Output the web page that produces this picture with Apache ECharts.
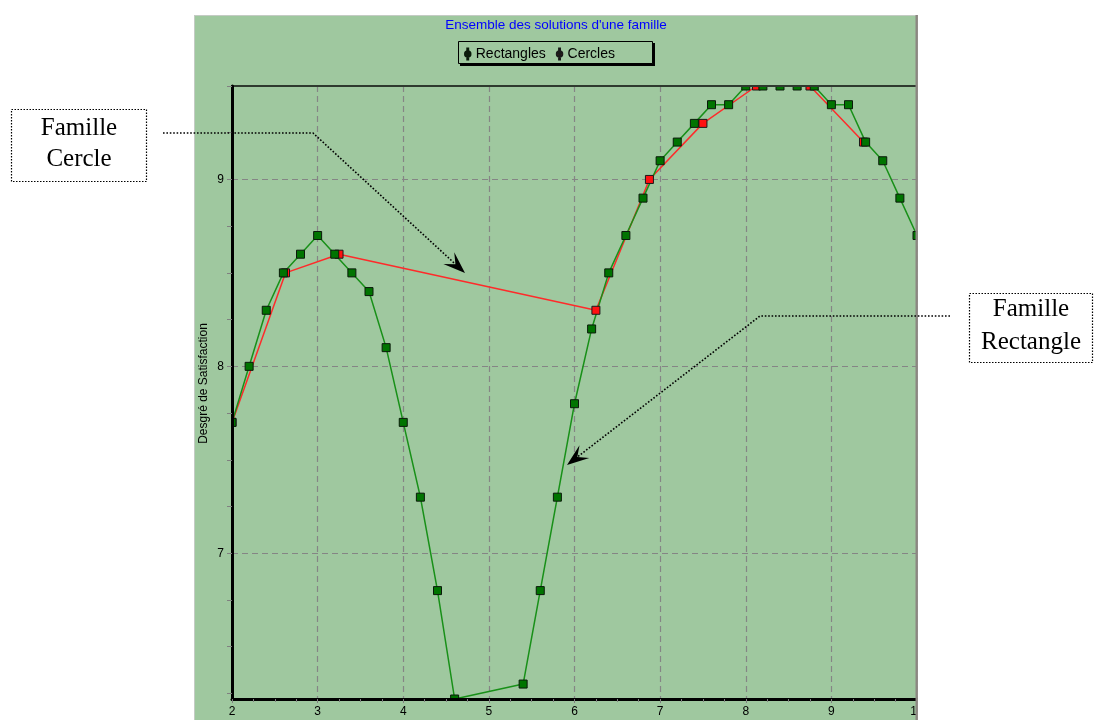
<!DOCTYPE html>
<html>
<head>
<meta charset="utf-8">
<title>Ensemble des solutions d'une famille</title>
<script src="https://cdn.jsdelivr.net/npm/echarts@6/dist/echarts.min.js"></script>
<style>
html, body { margin: 0; padding: 0; background: #fff; }
#chart { width: 1095px; height: 720px; }
</style>
</head>
<body>
<div id="chart"></div>
<script>
// famille Rectangles
var rectX = [2, 2.2, 2.4, 2.6, 2.8, 3, 3.2, 3.4, 3.6, 3.8, 4, 4.2, 4.4, 4.6, 5.4, 5.6, 5.8, 6, 6.2, 6.4, 6.6, 6.8, 7, 7.2, 7.4, 7.6, 7.8, 8, 8.2, 8.4, 8.6, 8.8, 9, 9.2, 9.4, 9.6, 9.8, 10];
var rectY = [7.7, 8.0, 8.3, 8.5, 8.6, 8.7, 8.6, 8.5, 8.4, 8.1, 7.7, 7.3, 6.8, 6.22, 6.3, 6.8, 7.3, 7.8, 8.2, 8.5, 8.7, 8.9, 9.1, 9.2, 9.3, 9.4, 9.4, 9.5, 9.5, 9.5, 9.5, 9.5, 9.4, 9.4, 9.2, 9.1, 8.9, 8.7];
// famille Cercles
var cercX = [2, 2.625, 3.25, 6.25, 6.875, 7.5, 8.125, 8.75, 9.375];
var cercY = [7.7, 8.5, 8.6, 8.3, 9.0, 9.3, 9.5, 9.5, 9.2];

var yLabels = [7, 8, 9];
var yTicks = [6.25, 6.5, 6.75, 7, 7.25, 7.5, 7.75, 8, 8.25, 8.5, 8.75, 9, 9.25, 9.5];

var panel = '#9fc89f';
var gridCol = '#858585';

function pairs(xs, ys) {
  return xs.map(function (x, i) { return [x, ys[i]]; });
}

// pointe de fleche pour les annotations
function arrowHead(from, tip) {
  var dx = tip[0] - from[0], dy = tip[1] - from[1];
  var len = Math.sqrt(dx * dx + dy * dy);
  var ux = dx / len, uy = dy / len, nx = -uy, ny = ux;
  var back = 22, half = 8, notch = 13;
  return {
    head: [
      tip,
      [tip[0] - back * ux + half * nx, tip[1] - back * uy + half * ny],
      [tip[0] - notch * ux, tip[1] - notch * uy],
      [tip[0] - back * ux - half * nx, tip[1] - back * uy - half * ny]
    ],
    notch: [tip[0] - notch * ux, tip[1] - notch * uy]
  };
}

var a1 = arrowHead([313, 133], [465, 273]);
var a2 = arrowHead([760, 316], [567, 465]);
var dotted = { stroke: '#000', lineWidth: 1.6, lineDash: [1.6, 1.8], fill: null };

var chart = echarts.init(document.getElementById('chart'));

var option = {
  animation: false,
  backgroundColor: '#ffffff',
  textStyle: { fontFamily: 'Liberation Sans' },
  grid: { left: 232, right: 178, top: 86, bottom: 21 },
  legend: {
    data: ['Rectangles', 'Cercles'],
    left: 464,
    top: 47,
    padding: 0,
    zlevel: 3,
    itemWidth: 6,
    itemHeight: 11,
    itemGap: 10,
    icon: 'path://M2.5,0h1v12h-1z M0,6a3,3 0 1,0 6,0a3,3 0 1,0 -6,0z',
    textStyle: { fontSize: 14, color: '#000', fontFamily: 'Liberation Sans' }
  },
  xAxis: [
    {
      type: 'value', min: 2, max: 10, interval: 1, zlevel: 0, z: 0,
      axisLine: { show: false }, axisTick: { show: false }, axisLabel: { show: false },
      splitLine: { show: true, lineStyle: { color: gridCol, width: 1.2, type: [6, 4] } }
    },
    {
      type: 'value', min: 2, max: 10, interval: 1, position: 'bottom', zlevel: 2,
      axisLine: { show: true, onZero: false, lineStyle: { color: '#000', width: 3 } },
      axisTick: { show: true, length: 4, lineStyle: { color: '#808080' } },
      minorTick: { show: true, splitNumber: 4, length: 3, lineStyle: { color: '#808080' } },
      axisLabel: { color: '#000', fontSize: 12, margin: 7 },
      splitLine: { show: false }
    }
  ],
  yAxis: [
    {
      type: 'value', min: 6.22, max: 9.5, zlevel: 0, z: 0,
      axisLine: { show: false },
      axisTick: { show: false, customValues: yLabels },
      axisLabel: { show: false, customValues: yLabels },
      splitLine: { show: true, lineStyle: { color: gridCol, width: 1.2, type: [6, 4] } }
    },
    {
      type: 'value', min: 6.22, max: 9.5, position: 'left', zlevel: 2,
      name: 'Desgré de Satisfaction', nameLocation: 'middle', nameGap: 22,
      nameMoveOverlap: false,
      nameTextStyle: { color: '#000', fontSize: 12, padding: [0, 0, 0, 18] },
      axisLine: { show: true, onZero: false, lineStyle: { color: '#000', width: 3 } },
      axisTick: { show: true, length: 5, customValues: yTicks, lineStyle: { color: '#808080' } },
      axisLabel: { customValues: yLabels, color: '#000', fontSize: 12, margin: 8 },
      splitLine: { show: false }
    }
  ],
  series: [
    {
      name: 'Cercles', type: 'line', xAxisIndex: 0, yAxisIndex: 0, clip: false, zlevel: 0,
      data: pairs(cercX, cercY),
      symbol: 'rect', symbolSize: 8,
      lineStyle: { color: '#ff2a2a', width: 1.5 },
      itemStyle: { color: '#ff1010', borderColor: '#1a1a1a', borderWidth: 1 }
    },
    {
      name: 'Rectangles', type: 'line', xAxisIndex: 0, yAxisIndex: 0, clip: false, zlevel: 0,
      data: pairs(rectX, rectY),
      symbol: 'rect', symbolSize: 8,
      lineStyle: { color: '#189018', width: 1.5 },
      itemStyle: { color: '#007400', borderColor: '#0a1a0a', borderWidth: 1 }
    }
  ],
  graphic: [
    // fond du panneau
    { type: 'rect', zlevel: 0, z: -10, shape: { x: 194, y: 15, width: 724, height: 705 }, style: { fill: panel } },
    // caches autour de la zone de trace (les marqueurs sont coupes au bord)
    { type: 'rect', zlevel: 1, shape: { x: 194, y: 15, width: 724, height: 70.5 }, style: { fill: panel } },
    { type: 'rect', zlevel: 1, shape: { x: 194, y: 15, width: 37, height: 705 }, style: { fill: panel } },
    { type: 'rect', zlevel: 1, shape: { x: 194, y: 700, width: 724, height: 20 }, style: { fill: panel } },
    { type: 'line', zlevel: 2, shape: { x1: 231, y1: 86, x2: 917, y2: 86 }, style: { stroke: '#2e3a2e', lineWidth: 2 } },
    // titre
    { type: 'text', zlevel: 2, style: { text: "Ensemble des solutions d'une famille", x: 556, y: 25, textAlign: 'center', textVerticalAlign: 'middle', fontSize: 13.5, fontFamily: 'Liberation Sans', fill: '#0000ff' } },
    // cadre de legende
    { type: 'rect', zlevel: 2, shape: { x: 460, y: 43, width: 195, height: 23 }, style: { fill: '#000' } },
    { type: 'rect', zlevel: 2, shape: { x: 458.5, y: 41.5, width: 194, height: 22 }, style: { fill: panel, stroke: '#000', lineWidth: 1 } },
    // hors panneau a droite
    { type: 'rect', zlevel: 4, shape: { x: 917.5, y: 0, width: 178, height: 720 }, style: { fill: '#ffffff' } },
    // bords
    { type: 'line', zlevel: 5, shape: { x1: 194.5, y1: 15, x2: 194.5, y2: 720 }, style: { stroke: '#c4cbc4', lineWidth: 1 } },
    { type: 'line', zlevel: 5, shape: { x1: 194, y1: 15.5, x2: 918, y2: 15.5 }, style: { stroke: '#c4cbc4', lineWidth: 1 } },
    { type: 'line', zlevel: 5, shape: { x1: 916.7, y1: 15, x2: 916.7, y2: 720 }, style: { stroke: '#8c8682', lineWidth: 2.4 } },
    // annotation Famille Cercle
    { type: 'rect', zlevel: 5, shape: { x: 11.5, y: 109.5, width: 135, height: 72 }, style: { fill: '#fff', stroke: '#000', lineWidth: 1.2, lineDash: [1.5, 1.5] } },
    { type: 'text', zlevel: 6, style: { text: 'Famille\nCercle', x: 79, y: 144, textAlign: 'center', textVerticalAlign: 'middle', lineHeight: 31, fontSize: 25, fontFamily: 'Liberation Serif', fill: '#000' } },
    { type: 'polyline', zlevel: 6, shape: { points: [[163, 133], [313, 133], a1.notch] }, style: dotted },
    { type: 'polygon', zlevel: 6, shape: { points: a1.head }, style: { fill: '#000' } },
    // annotation Famille Rectangle
    { type: 'rect', zlevel: 5, shape: { x: 969.5, y: 293.5, width: 123, height: 69 }, style: { fill: '#fff', stroke: '#000', lineWidth: 1.2, lineDash: [1.5, 1.5] } },
    { type: 'text', zlevel: 6, style: { text: 'Famille\nRectangle', x: 1031, y: 326, textAlign: 'center', textVerticalAlign: 'middle', lineHeight: 33, fontSize: 25, fontFamily: 'Liberation Serif', fill: '#000' } },
    { type: 'polyline', zlevel: 6, shape: { points: [[950, 316], [760, 316], a2.notch] }, style: dotted },
    { type: 'polygon', zlevel: 6, shape: { points: a2.head }, style: { fill: '#000' } }
  ]
};

chart.setOption(option);
</script>
</body>
</html>
